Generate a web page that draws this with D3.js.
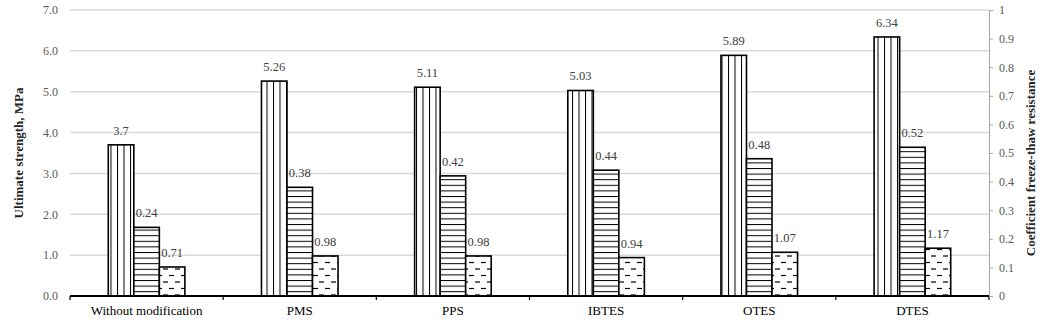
<!DOCTYPE html>
<html>
<head>
<meta charset="utf-8">
<script src="https://cdn.jsdelivr.net/npm/d3@7/dist/d3.min.js"></script>
<style>
  html, body { margin: 0; padding: 0; background: #fff; }
  svg { display: block; font-family: "Liberation Serif", "Times New Roman", serif; }
</style>
</head>
<body>
<svg id="chart" width="1049" height="320"></svg>
<script>
const categories = ['Without modification', 'PMS', 'PPS', 'IBTES', 'OTES', 'DTES'];
const strength = [3.7, 5.26, 5.11, 5.03, 5.89, 6.34];      // left axis
const freezeThaw = [0.24, 0.38, 0.42, 0.44, 0.48, 0.52];   // right axis
const thirdSeries = [0.71, 0.98, 0.98, 0.94, 1.07, 1.17];  // left axis
const leftTicks = [0, 1, 2, 3, 4, 5, 6, 7];
const rightTicks = [0, 0.1, 0.2, 0.3, 0.4, 0.5, 0.6, 0.7, 0.8, 0.9, 1];

const svg = d3.select('#chart');

/* ── Dimensions ── */
const plotL = 70, plotR = 989, plotT = 10, plotB = 296;

/* ── Scales ── */
const x = d3.scaleBand().domain(categories).range([plotL, plotR]);
const yL = d3.scaleLinear().domain([0, 7]).range([plotB, plotT]);
const yR = d3.scaleLinear().domain([0, 1]).range([plotB, plotT]);
const groupW = x.bandwidth() * 0.5;
const xs = d3.scaleBand().domain([0, 1, 2]).range([0, groupW]);

/* ── Patterns ── */
const defs = svg.append('defs');
const pv = defs.append('pattern').attr('id', 'pv').attr('patternUnits', 'userSpaceOnUse')
  .attr('width', 6.5).attr('height', 10);
pv.append('rect').attr('width', 6.5).attr('height', 10).attr('fill', '#fff');
pv.append('line').attr('x1', 0.5).attr('x2', 0.5).attr('y1', 0).attr('y2', 10)
  .attr('stroke', '#000').attr('stroke-width', 1);

const ph = defs.append('pattern').attr('id', 'ph').attr('patternUnits', 'userSpaceOnUse')
  .attr('width', 10).attr('height', 5.6);
ph.append('rect').attr('width', 10).attr('height', 5.6).attr('fill', '#fff');
ph.append('line').attr('x1', 0).attr('x2', 10).attr('y1', 0.5).attr('y2', 0.5)
  .attr('stroke', '#000').attr('stroke-width', 1);

const pd = defs.append('pattern').attr('id', 'pd').attr('patternUnits', 'userSpaceOnUse')
  .attr('width', 12).attr('height', 13);
pd.append('rect').attr('width', 12).attr('height', 13).attr('fill', '#fff');
pd.append('line').attr('x1', 1).attr('x2', 6).attr('y1', 2.5).attr('y2', 2.5)
  .attr('stroke', '#000').attr('stroke-width', 1.2);
pd.append('line').attr('x1', 7).attr('x2', 12).attr('y1', 9).attr('y2', 9)
  .attr('stroke', '#000').attr('stroke-width', 1.2);

/* ── Grid lines ── */
svg.append('g')
  .selectAll('line')
  .data(leftTicks.slice(1))
  .join('line')
  .attr('x1', plotL).attr('x2', plotR)
  .attr('y1', (d) => yL(d)).attr('y2', (d) => yL(d))
  .attr('stroke', '#d9d9d9').attr('stroke-width', 1.5);

/* ── Bars ── */
const series = [
  { values: strength, scale: yL, fill: 'url(#pv)' },
  { values: freezeThaw, scale: yR, fill: 'url(#ph)' },
  { values: thirdSeries, scale: yL, fill: 'url(#pd)' }
];

series.forEach((s, si) => {
  const bx = (i) => x(categories[i]) + (x.bandwidth() - groupW) / 2 + xs(si);
  const g = svg.append('g');
  g.selectAll('rect')
    .data(s.values)
    .join('rect')
    .attr('x', (d, i) => bx(i))
    .attr('y', (d) => s.scale(d))
    .attr('width', xs.bandwidth())
    .attr('height', (d) => plotB - s.scale(d))
    .attr('fill', s.fill)
    .attr('stroke', '#000')
    .attr('stroke-width', 1.6);
  g.selectAll('text')
    .data(s.values)
    .join('text')
    .attr('x', (d, i) => bx(i) + xs.bandwidth() / 2)
    .attr('y', (d) => s.scale(d) - 10)
    .attr('text-anchor', 'middle')
    .attr('fill', '#404040')
    .attr('font-size', 12.5)
    .text((d) => String(d));
});

/* ── Baseline + category axis ── */
svg.append('g')
  .attr('transform', `translate(0,${plotB})`)
  .call(d3.axisBottom(x).tickSize(0).tickPadding(10))
  .call((a) => a.select('.domain').remove())
  .call((a) => a.selectAll('text')
    .attr('font-family', '"Liberation Serif", serif')
    .attr('font-size', 13)
    .attr('fill', '#000'));

svg.append('g')
  .selectAll('line')
  .data(categories.map((c) => x(c)).concat([plotR]))
  .join('line')
  .attr('x1', (d) => d).attr('x2', (d) => d)
  .attr('y1', plotB).attr('y2', plotB + 4)
  .attr('stroke', '#000').attr('stroke-width', 1.2);

svg.append('line')
  .attr('x1', plotL).attr('x2', plotR)
  .attr('y1', plotB).attr('y2', plotB)
  .attr('stroke', '#000').attr('stroke-width', 2);

/* ── Left axis ── */
svg.append('g')
  .attr('transform', `translate(${plotL},0)`)
  .call(d3.axisLeft(yL).tickValues(leftTicks).tickFormat(d3.format('.1f')).tickSize(0).tickPadding(12))
  .call((a) => a.select('.domain').remove())
  .call((a) => a.selectAll('text')
    .attr('font-family', '"Liberation Serif", serif')
    .attr('font-size', 12)
    .attr('fill', '#595959'));

/* ── Right axis ── */
svg.append('g')
  .attr('transform', `translate(${plotR},0)`)
  .call(d3.axisRight(yR).tickValues(rightTicks).tickFormat(d3.format('~g')).tickSize(4).tickSizeOuter(0).tickPadding(6))
  .call((a) => a.select('.domain').attr('stroke', '#a6a6a6'))
  .call((a) => a.selectAll('line').attr('stroke', '#a6a6a6'))
  .call((a) => a.selectAll('text')
    .attr('font-family', '"Liberation Serif", serif')
    .attr('font-size', 12)
    .attr('fill', '#595959'));

/* ── Axis titles ── */
svg.append('text')
  .attr('transform', `translate(23,${(plotT + plotB) / 2}) rotate(-90)`)
  .attr('text-anchor', 'middle')
  .attr('font-size', 13)
  .attr('font-weight', 'bold')
  .attr('fill', '#262626')
  .text('Ultimate strength, MPa');

svg.append('text')
  .attr('transform', `translate(1035,${(plotT + plotB) / 2 + 10}) rotate(-90)`)
  .attr('text-anchor', 'middle')
  .attr('font-size', 13)
  .attr('font-weight', 'bold')
  .attr('fill', '#262626')
  .text('Coefficient freeze-thaw resistance');
</script>
</body>
</html>
